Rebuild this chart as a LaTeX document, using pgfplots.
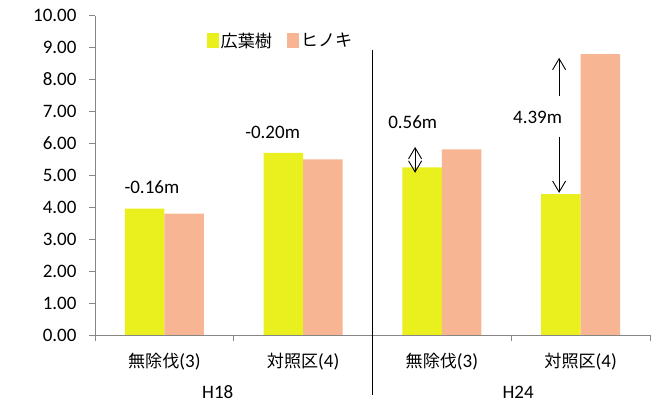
\documentclass[border=0pt]{standalone}
\usepackage{fontspec}
\setmainfont{Carlito}
\newfontfamily\cjk[Scale=0.9]{Noto Sans CJK JP}
\usepackage{pgfplots}
\pgfplotsset{compat=1.18}
\usetikzlibrary{arrows.meta}
\definecolor{ykol}{RGB}{234,240,30}
\definecolor{skol}{RGB}{248,181,147}
\definecolor{axgray}{RGB}{134,134,134}
\begin{document}
\begin{tikzpicture}
\useasboundingbox (0pt,0pt) rectangle (657pt,403pt);
\begin{axis}[
  at={(95pt,68pt)}, anchor=south west,
  scale only axis, width=555pt, height=319.3pt,
  xmin=-0.5, xmax=3.5, ymin=0, ymax=10,
  ybar=0pt, bar width=0.284,
  clip=false,
  font=\fontsize{19}{22}\selectfont,
  axis x line=bottom, axis y line=left,
  axis line style={draw=axgray, line width=0.9pt, -},
  tick align=outside,
  major tick length=6pt,
  tick style={draw=axgray, line width=0.9pt},
  ytick={0,1,...,10},
  yticklabel style={xshift=-9pt, /pgf/number format/.cd, fixed, fixed zerofill, precision=2, /pgf/number format/assume math mode=true},
  xtick={-0.5,0.5,2.5,3.5},
  xticklabels={},
  extra x ticks={0,1,2,3},
  extra x tick labels={{\cjk 無除伐}(3),{\cjk 対照区}(4),{\cjk 無除伐}(3),{\cjk 対照区}(4)},
  extra x tick style={tick style={draw=none}, tick label style={yshift=-9pt}},
  legend style={at={(rel axis cs:0.2018,0.922)}, anchor=west, draw=none, fill=none,
    inner sep=0pt, legend columns=2,
    /tikz/every even column/.append style={column sep=14pt},
    nodes={inner sep=1.5pt}},
  legend image code/.code={\path[#1] (0pt,-7.5pt) rectangle (12pt,7.5pt);},
]
\addplot[fill=ykol, draw=none] coordinates {(0,3.96) (1,5.70) (2,5.25) (3,4.41)};
\addplot[fill=skol, draw=none] coordinates {(0,3.80) (1,5.50) (2,5.81) (3,8.80)};
\legend{{\cjk 広葉樹},{\cjk ヒノキ}}
\draw[black, line width=0.9pt] (axis cs:1.5,8.93) -- (axis cs:1.5,-1.88);
\node at (axis cs:-0.09,4.64) {-0.16m};
\node at (axis cs:0.78,6.36) {-0.20m};
\node at (axis cs:1.79,6.68) {0.56m};
\node at (axis cs:2.69,6.80) {4.39m};
\node at (axis cs:0.385,-1.79) {H18};
\node at (axis cs:2.55,-1.79) {H24};
\draw[line width=0.9pt, {Straight Barb[length=11pt,width=13pt]}-{Straight Barb[length=11pt,width=13pt]}] (axis cs:1.807,5.89) -- (axis cs:1.807,5.08);
\draw[line width=0.9pt, -{Straight Barb[length=11pt,width=13pt]}] (axis cs:2.845,7.49) -- (axis cs:2.845,8.68);
\draw[line width=0.9pt, -{Straight Barb[length=11pt,width=13pt]}] (axis cs:2.845,6.21) -- (axis cs:2.845,4.45);
\end{axis}
\end{tikzpicture}
\end{document}
